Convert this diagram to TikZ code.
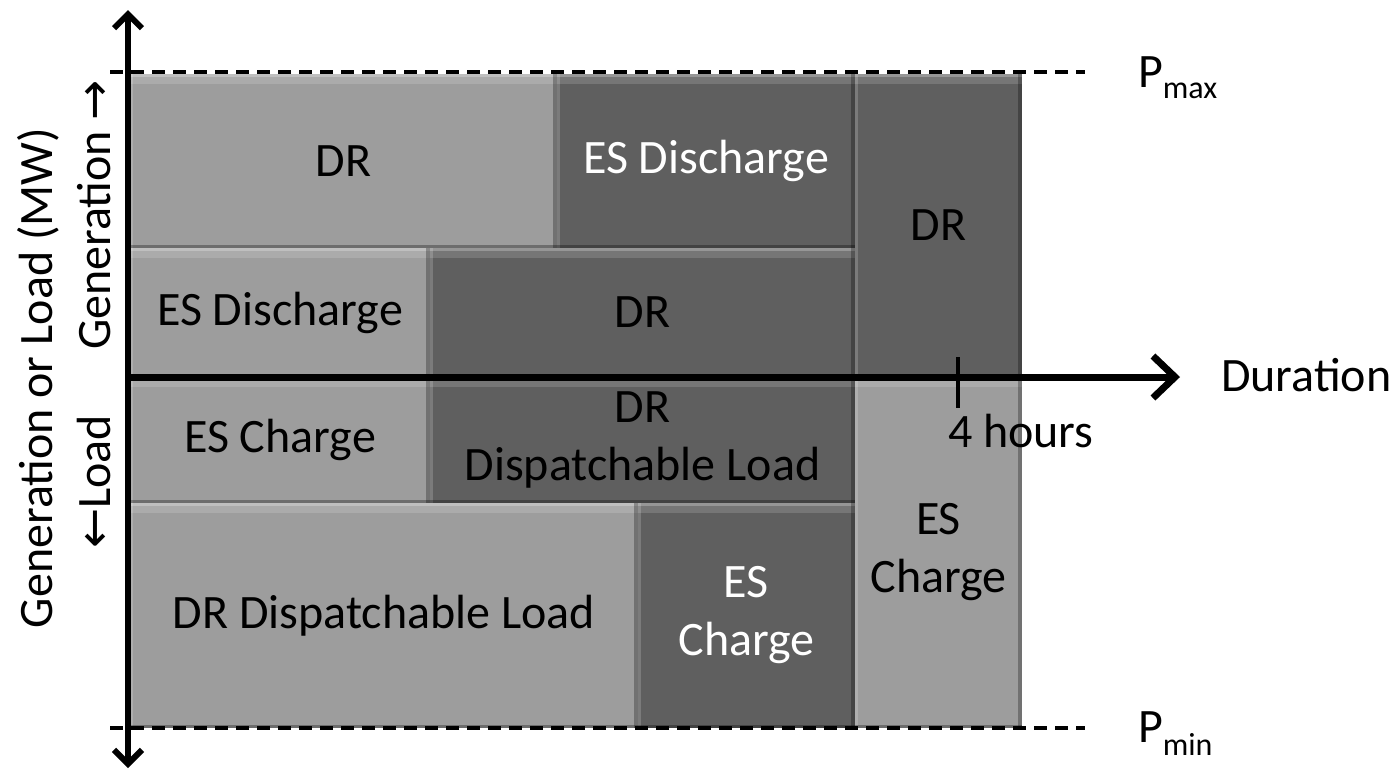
\documentclass[tikz,border=0pt]{standalone}
\usepackage{fontspec}
\setmainfont{Carlito}
\newfontfamily\arrowfont{DejaVu Sans}
\usetikzlibrary{arrows.meta}
\definecolor{lightbox}{HTML}{9D9D9D}
\definecolor{darkbox}{HTML}{5F5F5F}
\begin{document}
\begin{tikzpicture}[x=1pt,y=-1pt,
  lbl/.style={inner sep=0pt, outer sep=0pt, font=\fontsize{48}{58}\selectfont},
  bevel/.style={path picture={
      \fill[white,opacity=0.35] (path picture bounding box.north west) rectangle ([yshift=-3pt]path picture bounding box.north east);
      \fill[white,opacity=0.15] ([yshift=-3pt]path picture bounding box.north west) rectangle ([yshift=-10pt]path picture bounding box.north east);
      \fill[white,opacity=0.18] (path picture bounding box.north west) rectangle ([xshift=3pt]path picture bounding box.south west);
      \fill[black,opacity=0.28] ([xshift=-4pt]path picture bounding box.north east) rectangle (path picture bounding box.south east);
      \fill[black,opacity=0.30] ([yshift=3pt]path picture bounding box.south west) rectangle (path picture bounding box.south east);
    }},
  box/.style={anchor=north west, inner sep=0pt, outer sep=0pt, align=center,
    font=\fontsize{48}{58}\selectfont, bevel},
  lightb/.style={box, fill=lightbox, text=black},
  darkb/.style={box, fill=darkbox, text=black},
  darkw/.style={box, fill=darkbox, text=white},
  axis/.style={line width=6pt},
  dashline/.style={line width=4.5pt, dash pattern=on 13pt off 8pt},
]
\fill[white] (0,0) rectangle (1394,777);
\useasboundingbox (0,0) rectangle (1394,777);

% boxes
\node[lightb, minimum width=427pt, minimum height=174pt] (dra) at (130,74) {DR};
\node[darkw,  minimum width=298pt, minimum height=174pt] (esda) at (557,74) {ES Discharge};
\node[darkb,  minimum width=167pt, minimum height=303pt] (drc) at (855,74) {DR};
\node[lightb, minimum width=300pt, minimum height=129pt] (esdb) at (130,248) {ES Discharge};
\node[darkb,  minimum width=425pt, minimum height=129pt] (drb) at (430,248) {DR};
\node[lightb, minimum width=300pt, minimum height=126pt] (esca) at (130,377) {ES Charge};
\node[darkb,  minimum width=425pt, minimum height=126pt] (drd) at (430,377) {DR\\Dispatchable Load};
\node[lightb, minimum width=167pt, minimum height=351pt] (escc) at (855,377) {ES\\Charge};
\node[lightb, minimum width=508pt, minimum height=225pt] (dre) at (130,503) {DR Dispatchable Load};
\node[darkw,  minimum width=217pt, minimum height=225pt] (escb) at (638,503) {ES\\Charge};

% limit lines
\coordinate (pmaxl) at (110,72);
\coordinate (pmaxr) at (1085,72);
\coordinate (pminl) at (110,728);
\coordinate (pminr) at (1085,728);
\draw[dashline] (pmaxl) -- (pmaxr);
\draw[dashline] (pminl) -- (pminr);

% axes
\coordinate (yt) at (128,10);
\coordinate (yb) at (128,768);
\coordinate (o) at (128,377);
\coordinate (xe) at (1180,377);
\draw[axis, {Straight Barb[length=14pt,width=28pt]}-{Straight Barb[length=14pt,width=28pt]}] (yb) -- (yt);
\draw[line width=7pt, -{Straight Barb[length=22pt,width=42pt]}] (o) -- (xe);

% tick
\coordinate (tkt) at (958,357);
\coordinate (tkb) at (958,408);
\draw[line width=3.5pt] (tkt) -- (tkb);

% labels
\node[lbl, anchor=base west] (hrs) at (948,447) {4 hours};
\node[lbl, anchor=base west] (dur) at (1221,391) {Duration};
\node[lbl, anchor=base west] (pmax) at (1138,87) {P\raisebox{-11pt}{\fontsize{32}{32}\selectfont max}};
\node[lbl, anchor=base west] (pmin) at (1138,742) {P\raisebox{-13pt}{\fontsize{32}{32}\selectfont min}};
\node[lbl, rotate=90, anchor=base] (ylab) at (52,378) {Generation or Load (MW)};
\node[lbl, rotate=90, anchor=base] (gen) at (110,215) {Generation {\arrowfont →}};
\node[lbl, rotate=90, anchor=base] (ld) at (110,482) {{\arrowfont ←}Load};
\end{tikzpicture}
\end{document}
